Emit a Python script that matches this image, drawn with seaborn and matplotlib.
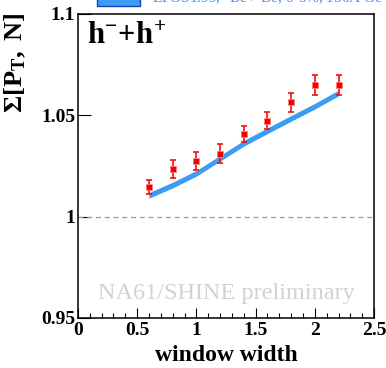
import numpy as np
import pandas as pd
import matplotlib
matplotlib.use("Agg")
import matplotlib.pyplot as plt
import seaborn as sns
from matplotlib.patches import Rectangle
from matplotlib.ticker import MultipleLocator, FixedLocator, FuncFormatter

# Data
window_width = [0.6, 0.8, 1.0, 1.2, 1.4, 1.6, 1.8, 2.0, 2.2]
sigma_data = [1.0148, 1.0234, 1.0275, 1.0311, 1.0409, 1.0474, 1.0564, 1.0648, 1.0650]
sigma_err = [0.0035, 0.0045, 0.0045, 0.0047, 0.0040, 0.0041, 0.0048, 0.0050, 0.0048]
epos_mid = [1.0105, 1.0156, 1.0214, 1.0288, 1.0362, 1.0424, 1.0485, 1.0545, 1.0610]
epos_half = [0.0014, 0.0014, 0.0014, 0.0014, 0.0014, 0.0014, 0.0014, 0.0014, 0.0014]
x_ticks = [0, 0.5, 1, 1.5, 2, 2.5]
y_ticks = [0.95, 1.0, 1.05, 1.1]

df = pd.DataFrame({"w": window_width, "s": sigma_data, "e": sigma_err})

sns.set_style("ticks")
plt.rcParams["font.family"] = ["Liberation Serif", "DejaVu Serif"]
plt.rcParams["mathtext.fontset"] = "custom"
plt.rcParams["mathtext.rm"] = "Liberation Serif"
plt.rcParams["mathtext.bf"] = "Liberation Serif:bold"
plt.rcParams["mathtext.it"] = "Liberation Serif:italic"
for key in ["text.color", "axes.labelcolor", "xtick.color", "ytick.color", "axes.edgecolor"]:
    plt.rcParams[key] = "black"

fig = plt.figure(figsize=(3.86, 3.68), dpi=100)
ax = fig.add_axes([0.202, 0.136, 0.767, 0.826])

# EPOS band
lo = np.array(epos_mid) - np.array(epos_half)
hi = np.array(epos_mid) + np.array(epos_half)
ax.fill_between(window_width, lo, hi, color="#3b9cf0", lw=0, zorder=2)

# reference line
ax.axhline(1.0, color="#999999", ls="--", lw=0.9, dashes=(4, 3), zorder=1)

# data points
ax.errorbar(df["w"], df["s"], yerr=df["e"], fmt="none", ecolor="#ee1111",
            elinewidth=1.2, capsize=2.5, capthick=1.2, zorder=3)
sns.scatterplot(data=df, x="w", y="s", marker="s", color="#ee0000", s=22,
                edgecolor="#ff8080", linewidth=0.6, zorder=4, ax=ax)

ax.set_xlim(0, 2.5)
ax.set_ylim(0.95, 1.1)
ax.xaxis.set_major_locator(FixedLocator(x_ticks))
ax.xaxis.set_minor_locator(MultipleLocator(0.1))
ax.yaxis.set_major_locator(FixedLocator(y_ticks))
fmt = FuncFormatter(lambda v, p: f"{v:g}")
ax.xaxis.set_major_formatter(fmt)
ax.yaxis.set_major_formatter(fmt)
ax.tick_params(which="both", direction="in", top=False, right=False)
ax.tick_params(which="major", length=7, width=0.8)
ax.tick_params(which="minor", length=3.5, width=0.8)
ax.tick_params(axis="y", which="major", length=9)
for lab in ax.get_xticklabels() + ax.get_yticklabels():
    lab.set_fontweight("bold")
    lab.set_fontsize(14)
ax.tick_params(axis="x", pad=3)
ax.tick_params(axis="y", pad=2)
for sp in ax.spines.values():
    sp.set_linewidth(1.1)
    sp.set_color("black")

ax.set_xlabel("window width", fontsize=17, fontweight="bold", labelpad=4)
ax.set_ylabel(r"$\mathbf{\Sigma[P_T,\ N]}$", fontsize=19)
ax.yaxis.set_label_coords(-0.17, 0.84)

ax.text(0.03, 0.975, r"$\mathbf{h^{-}\!+\!h^{+}}$", transform=ax.transAxes,
        fontsize=22, va="top", ha="left")
ax.text(0.5, 0.08, "NA61/SHINE preliminary", transform=ax.transAxes,
        fontsize=17.5, color="#d2d2d2", ha="center", va="center")

# legend remnant at top
fig.patches.append(Rectangle((97 / 386, 1 - 6 / 368), 43 / 386, 30 / 368,
                             transform=fig.transFigure, facecolor="#3b9cf0",
                             edgecolor="#1a3fbf", lw=1.0))
fig.text(152 / 386, 1 + 2 / 368, r"EPOS1.99, $^{7}$Be+$^{9}$Be, 0-5%, 150A GeV/c",
         fontsize=11, color="#4a8de8", ha="left", va="center")

fig.savefig("out.png", dpi=100)
